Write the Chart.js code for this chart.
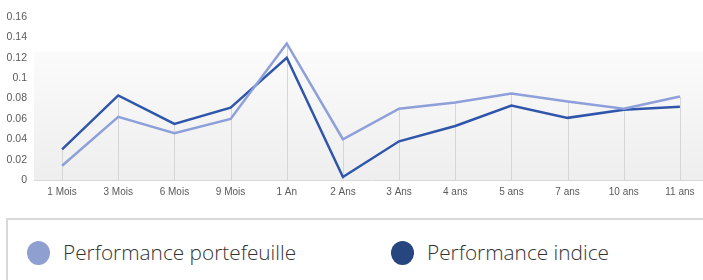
<!DOCTYPE html>
<html lang="fr">
<head>
<meta charset="utf-8">
<title>Performance</title>
<script src="https://cdn.jsdelivr.net/npm/chart.js@4/dist/chart.umd.min.js"></script>
<style>
  html, body { margin: 0; padding: 0; background: #fff; }
  body { width: 703px; height: 280px; overflow: hidden; position: relative; }
  #chartWrap { position: absolute; left: 0; top: 0; width: 708px; height: 210px; }
  #legend {
    position: absolute; left: 6px; top: 218px; width: 760px; height: 90px;
    border: 2px solid #d9d9d9; box-sizing: border-box;
    font-family: "Open Sans", Lato, sans-serif; font-weight: 300; font-size: 20.8px; color: #333;
  }
  .legend-item { position: absolute; top: 19px; height: 26px; line-height: 26px; white-space: nowrap; }
  .legend-dot { position: absolute; left: 0; top: 2px; width: 23px; height: 24px; border-radius: 50%; }
  .legend-text { position: absolute; left: 36px; top: 0; }
</style>
</head>
<body>
<div id="chartWrap"><canvas id="perfChart"></canvas></div>
<div id="legend"></div>

<script>
// categories and series
var categories = ['1 Mois', '3 Mois', '6 Mois', '9 Mois', '1 An', '2 Ans', '3 Ans', '4 ans', '5 ans', '7 ans', '10 ans', '11 ans'];
var portefeuille = [0.014, 0.062, 0.046, 0.060, 0.134, 0.040, 0.070, 0.076, 0.085, 0.077, 0.070, 0.082];
var indice = [0.030, 0.083, 0.055, 0.071, 0.120, 0.003, 0.038, 0.053, 0.073, 0.061, 0.069, 0.072];
var seriesLabels = ['Performance portefeuille', 'Performance indice'];
var yTicks = [0, 0.02, 0.04, 0.06, 0.08, 0.1, 0.12, 0.14, 0.16];

var lineColors = ['#8ea0da', '#2f56aa'];
var legendColors = ['#8fa0d0', '#27457e'];
var legendLeft = [19, 383];

// light grey vertical lines from the highest point down to the axis
var dropLines = {
  id: 'dropLines',
  beforeDatasetsDraw: function(chart) {
    var ctx = chart.ctx;
    var x = chart.scales.x, y = chart.scales.y;
    ctx.save();
    ctx.strokeStyle = '#d6d6d6';
    ctx.lineWidth = 1;
    for (var i = 0; i < categories.length; i++) {
      var top = Math.max(portefeuille[i], indice[i]);
      var px = Math.round(x.getPixelForValue(i)) + 0.5;
      ctx.beginPath();
      ctx.moveTo(px, y.getPixelForValue(top));
      ctx.lineTo(px, chart.chartArea.bottom);
      ctx.stroke();
    }
    ctx.restore();
  }
};

// soft grey gradient behind the lower part of the plot
var plotBackground = {
  id: 'plotBackground',
  beforeDraw: function(chart) {
    var ctx = chart.ctx, area = chart.chartArea;
    var top = chart.scales.y.getPixelForValue(0.126);
    var g = ctx.createLinearGradient(0, top, 0, area.bottom);
    g.addColorStop(0, '#fbfbfb');
    g.addColorStop(1, '#eeeeee');
    ctx.save();
    ctx.fillStyle = g;
    ctx.fillRect(area.left, top, chart.width - area.left, area.bottom - top);
    ctx.restore();
  }
};

var perfCtx = document.getElementById('perfChart').getContext('2d');
var perfChart = new Chart(perfCtx, {
  type: 'line',
  data: {
    labels: categories,
    datasets: [{
      label: seriesLabels[0],
      data: portefeuille,
      borderColor: lineColors[0],
      borderWidth: 2.5,
      pointRadius: 0,
      tension: 0
    }, {
      label: seriesLabels[1],
      data: indice,
      borderColor: lineColors[1],
      borderWidth: 2.5,
      pointRadius: 0,
      tension: 0
    }]
  },
  options: {
    responsive: true,
    maintainAspectRatio: false,
    animation: false,
    layout: { padding: { top: 17, right: 0, bottom: 6, left: 0 } },
    plugins: {
      legend: { display: false },
      tooltip: { enabled: false }
    },
    scales: {
      x: {
        offset: true,
        grid: { display: true, drawOnChartArea: false, drawTicks: false },
        border: { display: true, color: '#d9d9d9', width: 1 },
        ticks: {
          padding: 6,
          color: '#5a5a5a',
          font: { family: '"Liberation Sans Narrow", "Liberation Sans", sans-serif', size: 10 },
          maxRotation: 0,
          autoSkip: false
        }
      },
      y: {
        min: 0,
        max: 0.16,
        afterFit: function(scale) { scale.width = 34; },
        afterBuildTicks: function(scale) {
          scale.ticks = yTicks.map(function(v) { return { value: v }; });
        },
        grid: { display: false, drawTicks: false, tickLength: 0 },
        border: { display: false },
        ticks: {
          padding: 7,
          color: '#5a5a5a',
          font: { family: '"Liberation Sans Narrow", "Liberation Sans", sans-serif', size: 10.5 },
          callback: function(v) { return String(Number(v.toFixed(2))); }
        }
      }
    }
  },
  plugins: [plotBackground, dropLines]
});

// html legend built from the series
var legendBox = document.getElementById('legend');
seriesLabels.forEach(function(label, i) {
  var item = document.createElement('div');
  item.className = 'legend-item';
  item.style.left = legendLeft[i] + 'px';
  item.innerHTML = '<span class="legend-dot" style="background:' + legendColors[i] + '"></span>' +
                   '<span class="legend-text">' + label + '</span>';
  legendBox.appendChild(item);
});
</script>
</body>
</html>
